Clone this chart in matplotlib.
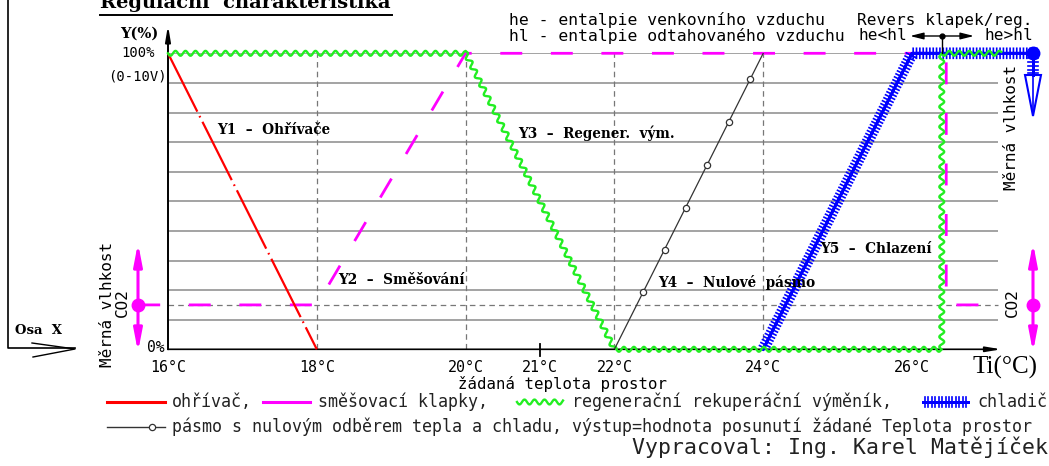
import matplotlib
matplotlib.use("Agg")
import matplotlib.pyplot as plt
from matplotlib import patheffects as pe
from matplotlib.patches import Polygon

plt.rcParams["lines.scale_dashes"] = False

W, H = 1049, 466

# regulation chart data: room temperature (°C) vs output (%)
grid_pct = [10, 20, 30, 40, 50, 60, 70, 80, 90, 100]
dashed_temps = [18, 20, 22, 24]
co2_pct = 15

y1_temp = [16, 18]
y1_pct = [100, 0]

y2_temp = [15.6, 18, 20, 26.46, 26.46, 27.16]
y2_pct = [15, 15, 100, 100, 15, 15]

y3_temp = [16, 20, 22, 26.40, 26.40, 27.2]
y3_pct = [100, 100, 0, 0, 100, 100]

y4_temp = [22, 24]
y4_pct = [0, 100]
y4_mark_temp = [22.38, 22.68, 22.96, 23.24, 23.54, 23.82]
y4_mark_pct = [19.3, 33.6, 47.9, 62.3, 76.7, 91.2]

y5_temp = [24, 26, 27.7]
y5_pct = [0, 100, 100]

tick_temps = [16, 18, 20, 21, 22, 24, 26]
tick_labels = ["16°C", "18°C", "20°C", "21°C", "22°C", "24°C", "26°C"]

RED = "#ff0000"
MAG = "#ff00ff"
GRN = "#22ee22"
BLU = "#0000ff"
GRID = "#8a8a8a"
MONO = "DejaVu Sans Mono"
SERIF = "DejaVu Serif"


def green_wave(line):
    line.set_sketch_params(2.5, 10, 1)


def blue_hatch():
    return [
        pe.withTickedStroke(spacing=2.4, angle=90, length=1.5, linewidth=1.2),
        pe.withTickedStroke(spacing=2.4, angle=-90, length=1.5, linewidth=1.2),
        pe.Normal(),
    ]


fig = plt.figure(figsize=(W / 100, H / 100), dpi=100, facecolor="white")

# main data axes, 16..27.2 °C over 74.4 px per degree
x_right = 168 + 11.2 * 74.4
ax = fig.add_axes([168 / W, (H - 349.3) / H, (x_right - 168) / W, 296 / H])
ax.set_xlim(16, 27.2)
ax.set_ylim(0, 100)
ax.axis("off")

ax.hlines(grid_pct, 16, 27.16, colors=GRID, lw=1.1, zorder=1)
ax.hlines(co2_pct, 16, 27.16, colors="#777777", lw=0.9,
          linestyles=(0, (4, 3)), zorder=1)
ax.vlines(dashed_temps, 0, 100, colors="#777777", lw=0.9,
          linestyles=(0, (4, 3)), zorder=1)

# axes with arrows
ax.annotate("", xy=(27.2, 0), xytext=(16, 0), annotation_clip=False,
            arrowprops=dict(arrowstyle="-|>,head_length=0.9,head_width=0.15",
                            color="k", lw=1.2, shrinkA=0, shrinkB=0))
ax.annotate("", xy=(16, 109.5), xytext=(16, 0), annotation_clip=False,
            arrowprops=dict(arrowstyle="-|>,head_length=0.9,head_width=0.15",
                            color="k", lw=1.4, shrinkA=0, shrinkB=0))
ax.plot([21, 21], [-2.3, 1.8], color="k", lw=1.3, clip_on=False)

# series
ax.plot(y2_temp, y2_pct, color=MAG, lw=2.0, dashes=(15.8, 20.6),
        clip_on=False, zorder=3)
ax.plot(y1_temp, y1_pct, color=RED, lw=1.6, dashes=(47, 3.5, 1.2, 3.5),
        clip_on=False, zorder=3)
ax.plot(y5_temp, y5_pct, color=BLU, lw=2.0, clip_on=False, zorder=4,
        path_effects=blue_hatch())
ln, = ax.plot(y3_temp, y3_pct, color=GRN, lw=1.7, clip_on=False, zorder=5)
green_wave(ln)
ax.plot(y4_temp, y4_pct, color="#333333", lw=0.9, zorder=6)
ax.plot(y4_mark_temp, y4_mark_pct, "o", ms=4.5, mfc="white", mec="#333333",
        mew=0.9, zorder=7)

for t, lab in zip(tick_temps, tick_labels):
    ax.text(t, -6, lab, ha="center", va="center", family=MONO, fontsize=10.8)
ax.text(21.3, -11.6, "žádaná teplota prostor", ha="center", va="center",
        family=MONO, fontsize=11.3)

# overlay in pixel coordinates for the drawing decorations
ov = fig.add_axes([0, 0, 1, 1], zorder=10)
ov.set_xlim(0, W)
ov.set_ylim(H, 0)
ov.axis("off")
ov.patch.set_visible(False)

ov.text(100, 8, "Regulační  charakteristika", family=SERIF, weight="bold",
        fontsize=14, va="baseline")
ov.plot([100, 392], [15, 15], color="k", lw=1.4)

ov.plot([8, 8, 75], [0, 348, 348], color="k", lw=1.2)
ov.plot([32, 75, 33], [343, 349, 357], color="k", lw=1.0)
ov.text(15, 330, "Osa  X", family=SERIF, weight="bold", fontsize=9.5,
        va="center")

ov.text(158, 34, "Y(%)", family=SERIF, weight="bold", fontsize=10.5,
        ha="right", va="center")
ov.text(155, 53, "100%", family=MONO, fontsize=10, ha="right", va="center")
ov.text(167, 76, "(0-10V)", family=MONO, fontsize=10, ha="right", va="center")
ov.text(164, 347, "0%", family=MONO, fontsize=10.5, ha="right", va="center")
ov.text(1005, 367, "Ti(°C)", family="Liberation Serif", fontsize=18,
        ha="center", va="center")

ov.text(509, 20, "he - entalpie venkovního vzduchu", family=MONO,
        fontsize=11.8, va="center")
ov.text(509, 36, "hl - entalpie odtahovaného vzduchu", family=MONO,
        fontsize=11.8, va="center")
ov.text(857, 20, "Revers klapek/reg.", family=MONO, fontsize=11.6,
        va="center")
ov.text(858, 36, "he<hl", family=MONO, fontsize=11.6, va="center")
ov.text(1033, 36, "he>hl", family=MONO, fontsize=11.6, va="center",
        ha="right")
ov.annotate("", xy=(910, 36), xytext=(974, 36),
            arrowprops=dict(arrowstyle="<|-|>,head_length=0.8,head_width=0.2",
                            color="k", lw=1.0, shrinkA=0, shrinkB=0))
ov.plot(942, 36, "o", color="k", ms=3.5)
ov.plot([942, 942], [36, 53], color="k", lw=1.0)

# humidity / CO2 side symbols
for xs, yv in [(107, 304), (1012, 127)]:
    ov.text(xs, yv, "Měrná vlhkost", rotation=90, family=MONO, fontsize=11.5,
            ha="center", va="center")
for xs in [122, 1012]:
    ov.text(xs, 303, "CO2", rotation=90, family=MONO, fontsize=11.5,
            ha="center", va="center")
for xs in [138, 1033]:
    ov.annotate("", xy=(xs, 243), xytext=(xs, 352),
                arrowprops=dict(arrowstyle="<|-|>,head_length=1.3,head_width=0.25",
                                color=MAG, lw=2.2, shrinkA=0, shrinkB=0))
    ov.plot(xs, 305, "o", color=MAG, ms=9)

ov.plot(1033, 53, "o", color=BLU, ms=9)
ov.plot([1033, 1033], [53, 75], color=BLU, lw=2.0, path_effects=blue_hatch())
ov.add_patch(Polygon([(1025, 75), (1041, 75), (1033, 116)], closed=True,
                     fill=False, edgecolor=BLU, lw=1.5))
ov.plot([1033, 1033], [75, 112], color=BLU, lw=1.2)

# in-chart labels
lab_kw = dict(family=SERIF, weight="bold", fontsize=9.8, va="center")
ov.text(217, 130, "Y1  –  Ohřívače", **lab_kw)
ov.text(338, 280, "Y2  –  Směšování", **lab_kw)
ov.text(518, 133, "Y3  –  Regener.  vým.", **lab_kw)
ov.text(658, 282, "Y4  –  Nulové  pásmo", **lab_kw)
ov.text(820, 249, "Y5  –  Chlazení", **lab_kw)

# legend
leg_kw = dict(family=MONO, fontsize=12, va="center", color="#222222")
ov.plot([107, 165], [402, 402], color=RED, lw=2.2)
ov.text(172, 402, "ohřívač,", **leg_kw)
ov.plot([263, 310], [402, 402], color=MAG, lw=2.2)
ov.text(318, 402, "směšovací klapky,", **leg_kw)
g, = ov.plot([517, 563], [402, 402], color=GRN, lw=1.7)
green_wave(g)
ov.text(572, 402, "regenerační rekuperáční výměník,", **leg_kw)
ov.plot([923, 968], [402, 402], color=BLU, lw=2.0, path_effects=blue_hatch())
ov.text(977, 402, "chladič", **leg_kw)

ov.plot([107, 165], [427, 427], color="#333333", lw=1.0)
ov.plot(152, 427, "o", ms=4.5, mfc="white", mec="#333333", mew=0.9)
ov.text(172, 427, "pásmo s nulovým odběrem tepla a chladu, výstup=hodnota "
        "posunutí žádané Teplota prostor", **leg_kw)
ov.text(1048, 447, "Vypracoval: Ing. Karel Matějíček", family=MONO,
        fontsize=15.5, ha="right", va="center", color="#222222")

fig.savefig("out.png", dpi=100, facecolor="white")
